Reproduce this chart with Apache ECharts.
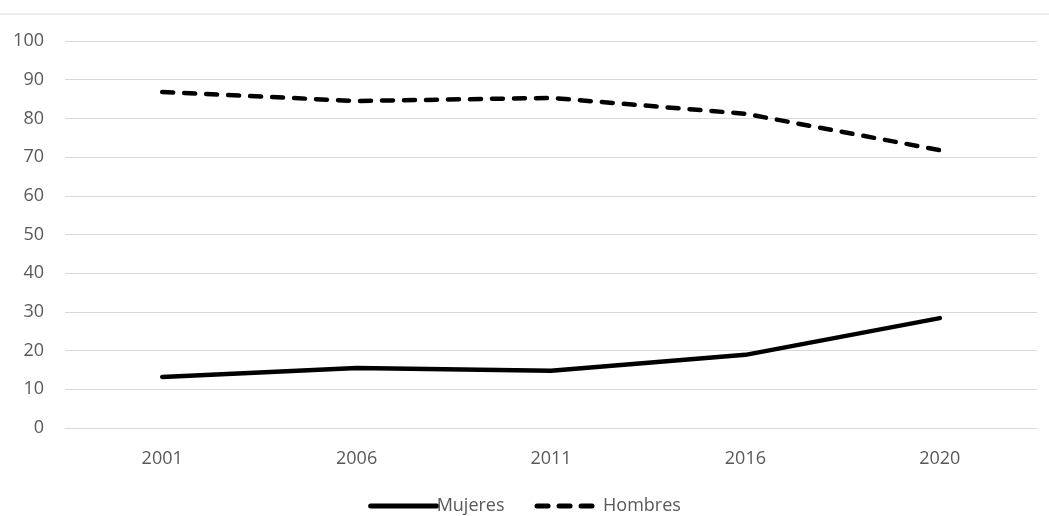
<!DOCTYPE html>
<html><head><meta charset="utf-8">
<script src="https://cdn.jsdelivr.net/npm/echarts@6/dist/echarts.min.js"></script>
<style>html,body{margin:0;padding:0;background:#fff}#c{width:1049px;height:516px}</style>
</head><body><div id="c"></div>
<script>
const categories = ['2001','2006','2011','2016','2020'];
const mujeres = [13.2, 15.5, 14.8, 18.9, 28.4];
const hombres = [86.8, 84.5, 85.3, 81.2, 71.8];
const yTicks = {min: 0, max: 100, interval: 10};

const chart = echarts.init(document.getElementById('c'));
const font = 'Open Sans';
chart.setOption({
  animation: false,
  backgroundColor: '#fff',
  graphic: [{type: 'line', shape: {x1: 0, y1: 14, x2: 1049, y2: 14}, style: {stroke: '#d9d9d9', lineWidth: 1}}],
  grid: {left: 65, right: 12, top: 41, bottom: 88},
  xAxis: {
    type: 'category', data: categories, boundaryGap: true,
    axisLine: {show: true, lineStyle: {color: '#d9d9d9'}},
    axisTick: {show: false},
    axisLabel: {color: '#595959', fontSize: 18, fontFamily: font, margin: 22}
  },
  yAxis: {
    type: 'value', min: yTicks.min, max: yTicks.max, interval: yTicks.interval,
    axisLine: {show: false}, axisTick: {show: false},
    splitLine: {lineStyle: {color: '#d9d9d9', width: 1}},
    axisLabel: {color: '#595959', fontSize: 18, fontFamily: font, margin: 21}
  },
  legend: {
    bottom: -4, left: 'center', itemWidth: 66, itemHeight: 14, itemGap: 30,
    itemStyle: {opacity: 0},
    lineStyle: {width: 5},
    textStyle: {color: '#595959', fontSize: 18, fontFamily: font, padding: [0,0,0,-5]},
    data: ['Mujeres', 'Hombres']
  },
  series: [
    {name: 'Mujeres', type: 'line', data: mujeres, symbol: 'none',
     lineStyle: {color: '#000', width: 4.5, cap: 'round'}, itemStyle: {color: '#000'}},
    {name: 'Hombres', type: 'line', data: hombres, symbol: 'none',
     lineStyle: {color: '#000', width: 4.5, type: [11, 11], cap: 'round'}, itemStyle: {color: '#000'}}
  ]
});
</script></body></html>
